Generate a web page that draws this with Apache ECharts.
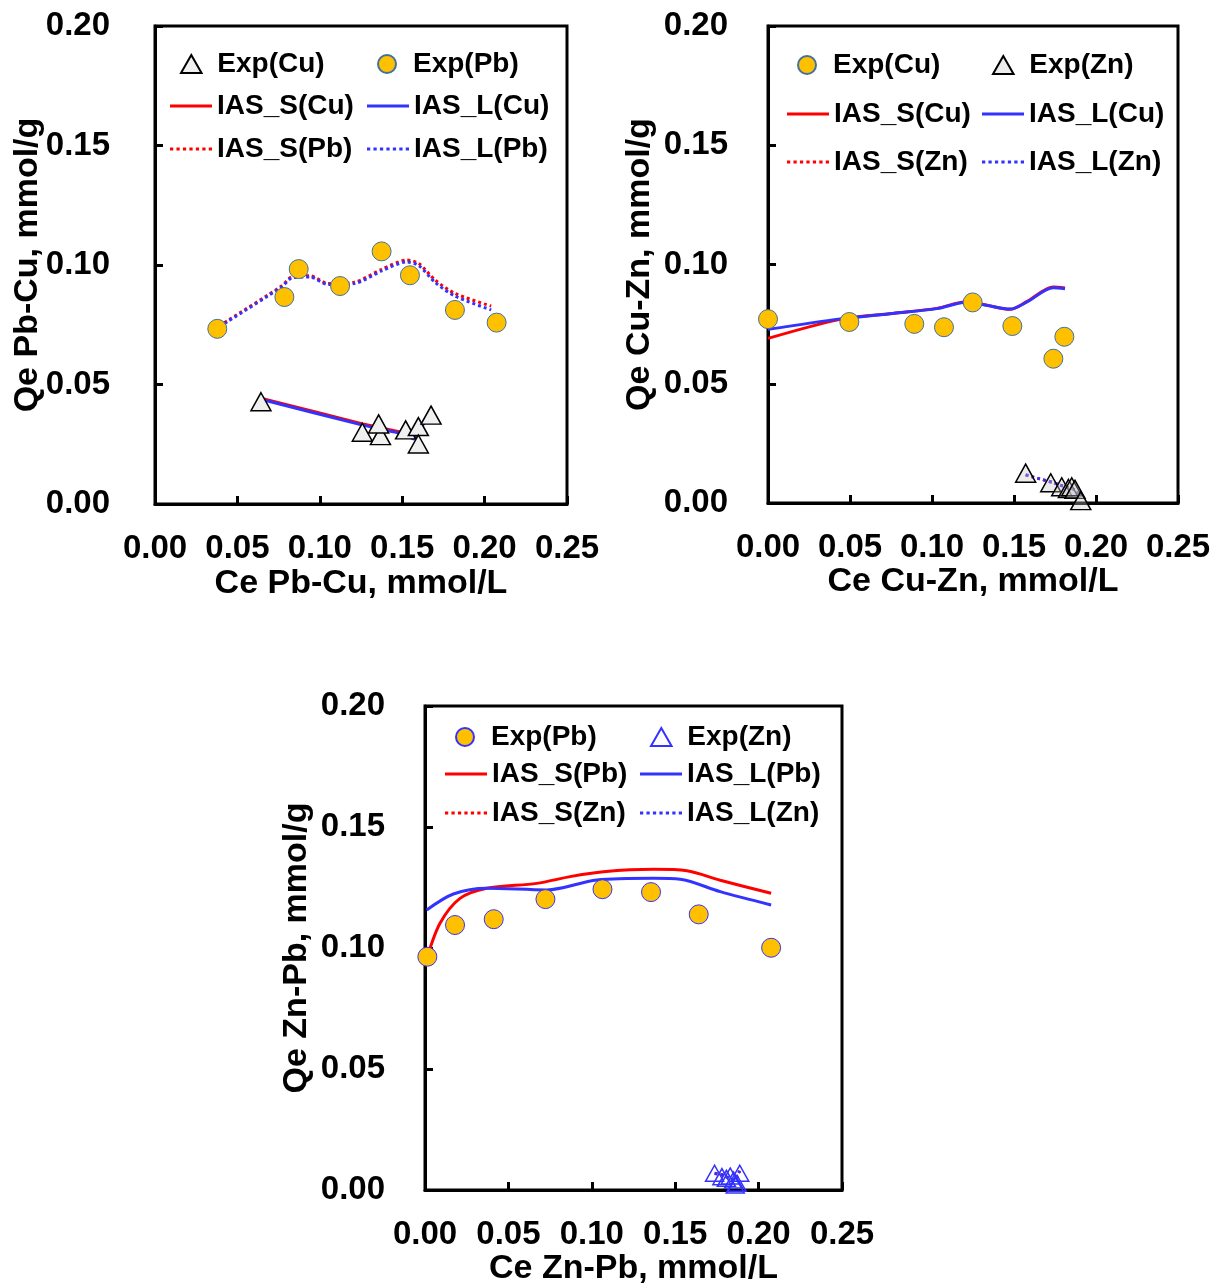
<!DOCTYPE html>
<html>
<head>
<meta charset="utf-8">
<script src="https://cdn.jsdelivr.net/npm/echarts@6/dist/echarts.min.js"></script>
<style>
html,body{margin:0;padding:0;background:#fff;}
body{width:1218px;height:1286px;position:relative;overflow:hidden;}
.c{position:absolute;}
</style>
</head>
<body>
<div id="c1" class="c" style="left:0;top:0;width:609px;height:640px;"></div>
<div id="c2" class="c" style="left:609px;top:0;width:609px;height:640px;"></div>
<div id="c3" class="c" style="left:260px;top:640px;width:700px;height:646px;"></div>
<script>
// ---------- Chart 1: Pb-Cu ----------
const c1ExpCuX = [0.0643, 0.1258, 0.1368, 0.1357, 0.1521, 0.1598, 0.1598, 0.1675];
const c1ExpCuY = [0.0428, 0.0300, 0.0286, 0.0335, 0.0310, 0.0324, 0.0251, 0.0372];
const c1ExpPbX = [0.0378, 0.0785, 0.0872, 0.1123, 0.1375, 0.1547, 0.1820, 0.2073];
const c1ExpPbY = [0.0733, 0.0866, 0.0983, 0.0912, 0.1057, 0.0957, 0.0812, 0.0759];
const c1ModCuX = [0.066, 0.126, 0.150, 0.157, 0.168];
const c1SCu    = [0.0440, 0.0335, 0.0300, 0.0278, 0.0405];
const c1LCu    = [0.0435, 0.0330, 0.0294, 0.0272, 0.0400];
const c1ModPbX = [0.039, 0.044, 0.077, 0.083, 0.094, 0.105, 0.121, 0.1375, 0.1527, 0.160, 0.170, 0.182, 0.204];
const c1SPb    = [0.0745, 0.0767, 0.0913, 0.0951, 0.0955, 0.0923, 0.0928, 0.0982, 0.1021, 0.1007, 0.0937, 0.0881, 0.0828];
const c1LPb    = [0.0742, 0.0763, 0.0909, 0.0946, 0.0950, 0.0918, 0.0922, 0.0975, 0.1013, 0.0998, 0.0927, 0.0870, 0.0812];

// ---------- Chart 2: Cu-Zn ----------
const c2ExpCuX = [0.000, 0.0496, 0.0892, 0.1073, 0.1248, 0.1490, 0.1740, 0.1807];
const c2ExpCuY = [0.0771, 0.0759, 0.0751, 0.0737, 0.0841, 0.0742, 0.0605, 0.0697];
const c2ExpZnX = [0.1571, 0.1724, 0.1791, 0.1832, 0.1852, 0.1872, 0.1907];
const c2ExpZnY = [0.0125, 0.0085, 0.0068, 0.0061, 0.0068, 0.0057, 0.0010];
const c2ModCuX = [0.000, 0.044, 0.076, 0.103, 0.121, 0.133, 0.1476, 0.1577, 0.174, 0.1811];
const c2SCu    = [0.0690, 0.0770, 0.0795, 0.0816, 0.0844, 0.0830, 0.0812, 0.0844, 0.0906, 0.0902];
const c2LCu    = [0.0728, 0.0772, 0.0795, 0.0815, 0.0842, 0.0829, 0.0813, 0.0842, 0.0902, 0.0898];
const c2ModZnX = [0.1571, 0.1618, 0.1655, 0.1740, 0.1780, 0.1872, 0.1902];
const c2SZn    = [0.0117, 0.0108, 0.0101, 0.0085, 0.0075, 0.0055, 0.0026];
const c2LZn    = [0.0119, 0.0109, 0.0102, 0.0086, 0.0075, 0.0054, 0.0024];

// ---------- Chart 3: Zn-Pb ----------
const c3ExpPbX = [0.0014, 0.0180, 0.0412, 0.0722, 0.1064, 0.1355, 0.1641, 0.2075];
const c3ExpPbY = [0.0964, 0.1095, 0.1119, 0.1202, 0.1243, 0.1231, 0.1139, 0.1001];
const c3ExpZnX = [0.1736, 0.1780, 0.1807, 0.1830, 0.1850, 0.1887, 0.1871, 0.1860];
const c3ExpZnY = [0.0069, 0.0055, 0.0048, 0.0058, 0.0041, 0.0069, 0.0028, 0.0021];
const c3SPbX   = [0.001, 0.009, 0.021, 0.037, 0.067, 0.087, 0.107, 0.137, 0.157, 0.177, 0.2075];
const c3SPb    = [0.0955, 0.1102, 0.1205, 0.1247, 0.1267, 0.1295, 0.1315, 0.1325, 0.1319, 0.1280, 0.1226];
const c3LPbX   = [0.001, 0.017, 0.037, 0.073, 0.103, 0.137, 0.153, 0.177, 0.2075];
const c3LPb    = [0.1157, 0.1223, 0.1247, 0.1240, 0.1281, 0.1288, 0.1284, 0.1233, 0.1178];
const c3ModZnX = [0.1736, 0.1785, 0.1820, 0.1855, 0.1887];
const c3SZn    = [0.0069, 0.0063, 0.0050, 0.0040, 0.0080];
const c3LZn    = [0.0068, 0.0062, 0.0049, 0.0039, 0.0079];

// axis settings
const xMin = 0, xMax = 0.25, xStep = 0.05;
const yMin = 0, yMax = 0.20, yStep = 0.05;

const FONT = '"Liberation Sans", Arial, sans-serif';
const RED = '#ff0000', BLUE = '#3333ff';

// legend icon shapes
const ICON_SOLID = 'path://M0,0h42v3h-42z';
let dots = 'path://';
for (let i = 0; i < 7; i++) dots += 'M' + (i*6) + ',0h3v3h-3z';
const ICON_DOTTED = dots;
const ICON_TRI = 'path://M8,0L16,14L0,14Z';

function zip(xs, ys){ return xs.map((x,i)=>[x, ys[i]]); }

function xAxis(name, gap){
  return {
    type:'value', min:xMin, max:xMax, interval:xStep,
    name:name, nameLocation:'middle', nameGap:gap, nameMoveOverlap:false,
    nameTextStyle:{fontFamily:FONT, fontWeight:'bold', fontSize:34, color:'#000'},
    axisLine:{show:true, onZero:false, lineStyle:{color:'#000', width:3}},
    axisTick:{show:true, inside:true, length:8, lineStyle:{color:'#000', width:3}},
    axisLabel:{margin:28, fontFamily:FONT, fontWeight:'bold', fontSize:33, color:'#000',
      formatter:v=>v.toFixed(2), showMinLabel:true, showMaxLabel:true, hideOverlap:false},
    splitLine:{show:false}
  };
}
function yAxis(name, margin, gap){
  return {
    type:'value', min:yMin, max:yMax, interval:yStep,
    name:name, nameLocation:'middle', nameGap:gap, nameMoveOverlap:false,
    nameTextStyle:{fontFamily:FONT, fontWeight:'bold', fontSize:34, color:'#000'},
    axisLine:{show:true, onZero:false, lineStyle:{color:'#000', width:3}},
    axisTick:{show:true, inside:true, length:8, lineStyle:{color:'#000', width:3}},
    axisLabel:{margin:margin, fontFamily:FONT, fontWeight:'bold', fontSize:33, color:'#000',
      formatter:v=>v.toFixed(2), showMinLabel:true, showMaxLabel:true},
    splitLine:{show:false}
  };
}
// line legend items: icon box 42 wide; marker items: shifted so text aligns with line items
function legL(name, left, centerY, icon){
  return {
    data:[{name:name, icon:icon}], left:left, top:centerY-15, padding:0, itemGap:0,
    itemWidth:42, itemHeight:18, selectedMode:false, symbolKeepAspect:true,
    itemStyle:{borderWidth:0},
    textStyle:{fontFamily:FONT, fontWeight:'bold', fontSize:28, color:'#000'}
  };
}
function legM(name, left, centerY, icon){
  return {
    data:[{name:name, icon:icon}], left:left+10, top:centerY-15, padding:0, itemGap:0,
    itemWidth:42, itemHeight:18, selectedMode:false, symbolKeepAspect:true,
    textStyle:{fontFamily:FONT, fontWeight:'bold', fontSize:28, color:'#000'}
  };
}
function lineS(name, xs, ys, color, dotted, smooth){
  return {
    name:name, type:'line', data:zip(xs, ys), symbol:'none', smooth:smooth,
    lineStyle:{color:color, width:3, type: dotted ? [3,3] : 'solid'},
    itemStyle:{color:color, borderWidth:0}, z:2, silent:true
  };
}
function scat(name, xs, ys, symbol, size, fill, border, bw){
  return {
    name:name, type:'scatter', data:zip(xs, ys), symbol:symbol, symbolSize:size,
    itemStyle:{color:fill, borderColor:border, borderWidth:bw, opacity:1}, z:4, silent:true
  };
}
function grid(left, top, w, h){
  return {left:left, top:top, width:w, height:h, show:true, borderColor:'#000', borderWidth:3,
    backgroundColor:'transparent', containLabel:false, outerBoundsMode:'none'};
}

// Chart 1
const ch1 = echarts.init(document.getElementById('c1'), null, {renderer:'canvas'});
ch1.setOption({
  animation:false,
  grid:grid(155, 26, 412, 478),
  xAxis:xAxis('Ce Pb-Cu, mmol/L', 63),
  yAxis:yAxis('Qe Pb-Cu, mmol/g', 45, 110),
  legend:[
    legM('Exp(Cu)', 170, 65, ICON_TRI), legM('Exp(Pb)', 367, 65, 'circle'),
    legL('IAS_S(Cu)', 170, 107, ICON_SOLID), legL('IAS_L(Cu)', 367, 107, ICON_SOLID),
    legL('IAS_S(Pb)', 170, 150, ICON_DOTTED), legL('IAS_L(Pb)', 367, 150, ICON_DOTTED)
  ],
  series:[
    lineS('IAS_S(Cu)', c1ModCuX, c1SCu, RED, false, 0.1),
    lineS('IAS_L(Cu)', c1ModCuX, c1LCu, BLUE, false, 0.1),
    lineS('IAS_S(Pb)', c1ModPbX, c1SPb, RED, true, 0.25),
    lineS('IAS_L(Pb)', c1ModPbX, c1LPb, BLUE, true, 0.25),
    scat('Exp(Cu)', c1ExpCuX, c1ExpCuY, 'triangle', [20,18], '#f0f0f0', '#000', 1.5),
    scat('Exp(Pb)', c1ExpPbX, c1ExpPbY, 'circle', 19, '#ffc000', '#41719c', 1)
  ]
});

// Chart 2
const ch2 = echarts.init(document.getElementById('c2'), null, {renderer:'canvas'});
ch2.setOption({
  animation:false,
  grid:grid(159, 26, 410, 477),
  xAxis:xAxis('Ce Cu-Zn, mmol/L', 62),
  yAxis:yAxis('Qe Cu-Zn, mmol/g', 40, 111),
  legend:[
    legM('Exp(Cu)', 178, 66, 'circle'), legM('Exp(Zn)', 373, 66, ICON_TRI),
    legL('IAS_S(Cu)', 178, 115, ICON_SOLID), legL('IAS_L(Cu)', 373, 115, ICON_SOLID),
    legL('IAS_S(Zn)', 178, 163, ICON_DOTTED), legL('IAS_L(Zn)', 373, 163, ICON_DOTTED)
  ],
  series:[
    lineS('IAS_S(Cu)', c2ModCuX, c2SCu, RED, false, 0.3),
    lineS('IAS_L(Cu)', c2ModCuX, c2LCu, BLUE, false, 0.3),
    lineS('IAS_S(Zn)', c2ModZnX, c2SZn, RED, true, 0.2),
    lineS('IAS_L(Zn)', c2ModZnX, c2LZn, BLUE, true, 0.2),
    scat('Exp(Cu)', c2ExpCuX, c2ExpCuY, 'circle', 19, '#ffc000', '#41719c', 1),
    scat('Exp(Zn)', c2ExpZnX, c2ExpZnY, 'triangle', [20,18], 'rgba(200,200,200,0.35)', '#000', 1.5)
  ]
});

// Chart 3
const ch3 = echarts.init(document.getElementById('c3'), null, {renderer:'canvas'});
ch3.setOption({
  animation:false,
  grid:grid(165, 66, 417, 484),
  xAxis:xAxis('Ce Zn-Pb, mmol/L', 62),
  yAxis:yAxis('Qe Zn-Pb, mmol/g', 40, 111),
  legend:[
    legM('Exp(Pb)', 185, 98, 'circle'), legM('Exp(Zn)', 380, 98, ICON_TRI),
    legL('IAS_S(Pb)', 185, 135, ICON_SOLID), legL('IAS_L(Pb)', 380, 135, ICON_SOLID),
    legL('IAS_S(Zn)', 185, 174, ICON_DOTTED), legL('IAS_L(Zn)', 380, 174, ICON_DOTTED)
  ],
  series:[
    lineS('IAS_S(Pb)', c3SPbX, c3SPb, RED, false, 0.3),
    lineS('IAS_L(Pb)', c3LPbX, c3LPb, BLUE, false, 0.3),
    lineS('IAS_S(Zn)', c3ModZnX, c3SZn, RED, true, 0),
    lineS('IAS_L(Zn)', c3ModZnX, c3LZn, BLUE, true, 0),
    scat('Exp(Pb)', c3ExpPbX, c3ExpPbY, 'circle', 19, '#ffc000', '#3333ff', 1),
    scat('Exp(Zn)', c3ExpZnX, c3ExpZnY, 'triangle', [18,16], 'rgba(255,255,255,0)', '#3333ff', 1.5)
  ]
});
</script>
</body>
</html>
